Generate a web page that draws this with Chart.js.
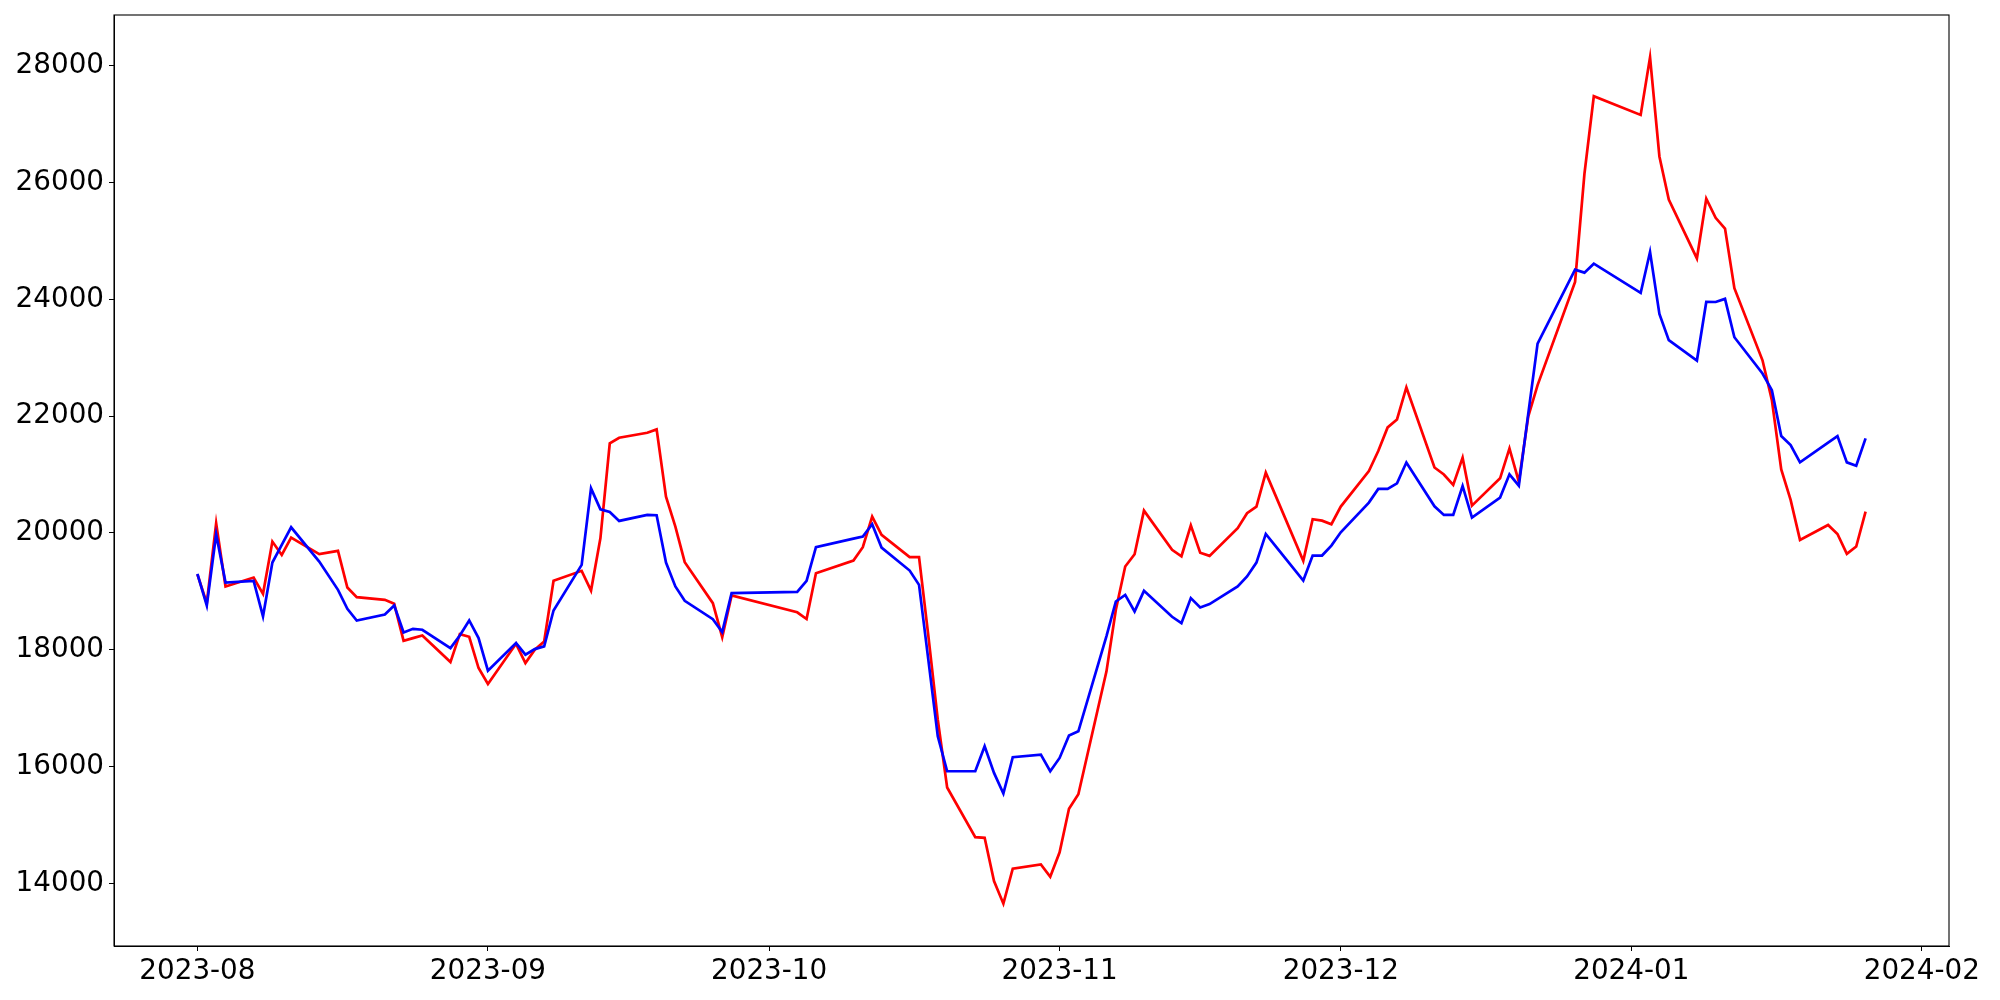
<!DOCTYPE html>
<html>
<head>
<meta charset="utf-8">
<script src="https://cdn.jsdelivr.net/npm/chart.js@4/dist/chart.umd.min.js"></script>
<style>
  html, body { margin: 0; padding: 0; background: #ffffff; }
  #wrap { width: 2000px; height: 1000px; }
</style>
</head>
<body>
<div id="wrap"><canvas id="c" width="2000" height="1000"></canvas></div>
<script>
// ---- data ----
const dates = [
  '2023-08-01','2023-08-02','2023-08-03','2023-08-04','2023-08-07','2023-08-08','2023-08-09','2023-08-10','2023-08-11',
  '2023-08-14','2023-08-16','2023-08-17','2023-08-18','2023-08-21','2023-08-22','2023-08-23','2023-08-24','2023-08-25',
  '2023-08-28','2023-08-29','2023-08-30','2023-08-31','2023-09-01','2023-09-04','2023-09-05','2023-09-06','2023-09-07',
  '2023-09-08','2023-09-11','2023-09-12','2023-09-13','2023-09-14','2023-09-15','2023-09-18','2023-09-19','2023-09-20',
  '2023-09-21','2023-09-22','2023-09-25','2023-09-26','2023-09-27','2023-10-04','2023-10-05','2023-10-06','2023-10-10',
  '2023-10-11','2023-10-12','2023-10-13','2023-10-16','2023-10-17','2023-10-18','2023-10-19','2023-10-20','2023-10-23',
  '2023-10-24','2023-10-25','2023-10-26','2023-10-27','2023-10-30','2023-10-31','2023-11-01','2023-11-02','2023-11-03',
  '2023-11-06','2023-11-07','2023-11-08','2023-11-09','2023-11-10','2023-11-13','2023-11-14','2023-11-15','2023-11-16',
  '2023-11-17','2023-11-20','2023-11-21','2023-11-22','2023-11-23','2023-11-24','2023-11-27','2023-11-28','2023-11-29',
  '2023-11-30','2023-12-01','2023-12-04','2023-12-05','2023-12-06','2023-12-07','2023-12-08','2023-12-11','2023-12-12',
  '2023-12-13','2023-12-14','2023-12-15','2023-12-18','2023-12-19','2023-12-20','2023-12-21','2023-12-22','2023-12-26',
  '2023-12-27','2023-12-28','2024-01-02','2024-01-03','2024-01-04','2024-01-05','2024-01-08','2024-01-09','2024-01-10',
  '2024-01-11','2024-01-12','2024-01-15','2024-01-16','2024-01-17','2024-01-18','2024-01-19','2024-01-22','2024-01-23',
  '2024-01-24','2024-01-25','2024-01-26'
];

const redValues = [
  19290,18797,20165,19082,19236,18956,19851,19623,19919,
  19635,19692,19065,18899,18854,18785,18153,18198,18244,
  17788,18267,18221,17686,17412,18100,17771,17999,18141,
  19179,19350,19013,19908,21532,21629,21715,21772,20621,
  20108,19498,18797,18216,18928,18640,18525,19310,19526,
  19754,20279,19965,19584,19584,18227,16802,15640,14791,
  14779,14038,13651,14249,14323,14112,14530,15275,15525,
  17629,18683,19424,19635,20381,19709,19600,20130,19660,
  19606,20079,20336,20450,21031,20655,19521,20233,20210,
  20148,20450,21060,21401,21806,21943,22490,21120,21000,
  20820,21288,20467,20934,21447,20877,21989,22530,24297,
  26149,27477,27157,28143,26445,25707,24700,25722,25394,
  25210,24190,22955,22273,21088,20564,19880,20136,19982,
  19640,19766,20364
];

const blueValues = [
  19300,18757,19977,19150,19179,18569,19492,19794,20096,
  19509,19025,18700,18500,18603,18757,18295,18358,18341,
  18027,18244,18500,18198,17640,18113,17914,18010,18056,
  18671,19452,20763,20404,20358,20205,20307,20302,19492,
  19082,18837,18523,18301,18968,18991,19180,19757,19902,
  19937,20147,19748,19355,19110,17817,16517,15919,15919,
  16346,15890,15537,16158,16204,15919,16147,16529,16603,
  18233,18825,18939,18654,19008,18563,18455,18883,18723,
  18780,19082,19253,19492,19982,19783,19185,19612,19612,
  19783,20011,20518,20752,20752,20849,21205,20455,20307,
  20307,20803,20262,20604,21003,20809,22034,23240,24507,
  24456,24610,24108,24809,23750,23299,22951,23954,23953,
  24007,23350,22729,22444,21658,21504,21208,21544,21658,
  21208,21151,21618
];

const xTickLabels = ['2023-08','2023-09','2023-10','2023-11','2023-12','2024-01','2024-02'];
const yTickValues = [14000,16000,18000,20000,22000,24000,26000,28000];

// ---- helpers ----
const toMs = s => { const p = s.split('-').map(Number); return Date.UTC(p[0], p[1]-1, p[2] || 1); };
const xs = dates.map(toMs);
const redPts = xs.map((x, i) => ({x, y: redValues[i]}));
const bluePts = xs.map((x, i) => ({x, y: blueValues[i]}));
const xTickMs = xTickLabels.map(toMs);

const xMinD = Math.min(...xs), xMaxD = Math.max(...xs);
const xPad = (xMaxD - xMinD) * 0.05;
const allY = redValues.concat(blueValues);
const yMinD = Math.min(...allY), yMaxD = Math.max(...allY);
const yPad = (yMaxD - yMinD) * 0.05;

const fontSpec = { family: "'DejaVu Sans', sans-serif", size: 27.8 };

const framePlugin = {
  id: 'frame',
  afterDraw(chart) {
    const a = chart.chartArea, ctx = chart.ctx;
    ctx.save();
    ctx.strokeStyle = '#000000';
    ctx.lineWidth = 1.1;
    ctx.strokeRect(a.left, a.top, a.right - a.left, a.bottom - a.top);
    ctx.restore();
  }
};

new Chart(document.getElementById('c'), {
  type: 'line',
  data: {
    datasets: [
      { label: 'red', data: redPts, borderColor: '#ff0000', borderWidth: 2.7, pointRadius: 0, tension: 0, fill: false, order: 1 },
      { label: 'blue', data: bluePts, borderColor: '#0000ff', borderWidth: 2.7, pointRadius: 0, tension: 0, fill: false, order: 0 }
    ]
  },
  options: {
    responsive: false,
    animation: false,
    events: [],
    layout: { padding: { top: 15, right: 51, left: 0, bottom: 0 } },
    plugins: { legend: { display: false }, tooltip: { enabled: false }, title: { display: false } },
    scales: {
      x: {
        type: 'linear',
        min: xMinD - xPad,
        max: xMaxD + xPad,
        afterBuildTicks: s => { s.ticks = xTickMs.map(v => ({ value: v })); },
        afterFit: s => { s.height = 54; s.paddingLeft = 0; s.paddingRight = 0; },
        ticks: {
          autoSkip: false, maxRotation: 0, minRotation: 0, padding: 4, color: '#000000', font: fontSpec,
          callback: (v) => { const i = xTickMs.indexOf(v); return i >= 0 ? xTickLabels[i] : ''; }
        },
        grid: { display: true, drawOnChartArea: false, drawTicks: true, tickLength: 5, color: '#000000', lineWidth: 1 },
        border: { display: true, color: '#000000', width: 1 }
      },
      y: {
        type: 'linear',
        min: yMinD - yPad,
        max: yMaxD + yPad,
        afterBuildTicks: s => { s.ticks = yTickValues.map(v => ({ value: v })); },
        afterFit: s => { s.width = 114; s.paddingTop = 0; s.paddingBottom = 0; },
        ticks: { autoSkip: false, padding: 5, color: '#000000', font: fontSpec, callback: v => String(v) },
        grid: { display: true, drawOnChartArea: false, drawTicks: true, tickLength: 5, color: '#000000', lineWidth: 1 },
        border: { display: true, color: '#000000', width: 1 }
      }
    }
  },
  plugins: [framePlugin]
});
</script>
</body>
</html>
